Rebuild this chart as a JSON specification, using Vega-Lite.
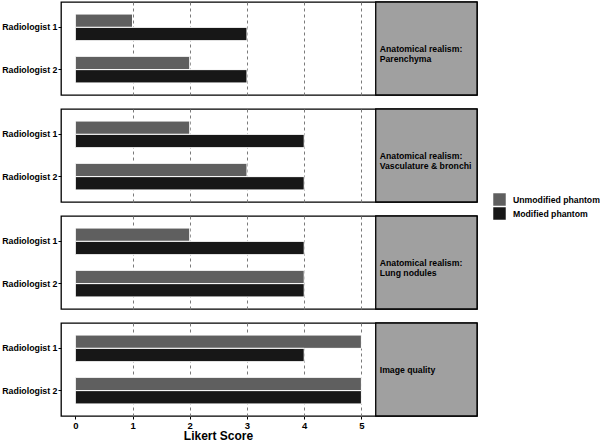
{
  "$schema": "https://vega.github.io/schema/vega-lite/v6.json",
  "padding": {"left": 1, "top": 0, "right": 0, "bottom": 0},
  "bounds": "flush",
  "background": "white",
  "data": {"values": [
    {"panel": "Anatomical realism:\nParenchyma", "rad": "Radiologist 1", "phantom": "Unmodified phantom", "score": 1},
    {"panel": "Anatomical realism:\nParenchyma", "rad": "Radiologist 1", "phantom": "Modified phantom", "score": 3},
    {"panel": "Anatomical realism:\nParenchyma", "rad": "Radiologist 2", "phantom": "Unmodified phantom", "score": 2},
    {"panel": "Anatomical realism:\nParenchyma", "rad": "Radiologist 2", "phantom": "Modified phantom", "score": 3},
    {"panel": "Anatomical realism:\nVasculature & bronchi", "rad": "Radiologist 1", "phantom": "Unmodified phantom", "score": 2},
    {"panel": "Anatomical realism:\nVasculature & bronchi", "rad": "Radiologist 1", "phantom": "Modified phantom", "score": 4},
    {"panel": "Anatomical realism:\nVasculature & bronchi", "rad": "Radiologist 2", "phantom": "Unmodified phantom", "score": 3},
    {"panel": "Anatomical realism:\nVasculature & bronchi", "rad": "Radiologist 2", "phantom": "Modified phantom", "score": 4},
    {"panel": "Anatomical realism:\nLung nodules", "rad": "Radiologist 1", "phantom": "Unmodified phantom", "score": 2},
    {"panel": "Anatomical realism:\nLung nodules", "rad": "Radiologist 1", "phantom": "Modified phantom", "score": 4},
    {"panel": "Anatomical realism:\nLung nodules", "rad": "Radiologist 2", "phantom": "Unmodified phantom", "score": 4},
    {"panel": "Anatomical realism:\nLung nodules", "rad": "Radiologist 2", "phantom": "Modified phantom", "score": 4},
    {"panel": "Image quality", "rad": "Radiologist 1", "phantom": "Unmodified phantom", "score": 5},
    {"panel": "Image quality", "rad": "Radiologist 1", "phantom": "Modified phantom", "score": 4},
    {"panel": "Image quality", "rad": "Radiologist 2", "phantom": "Unmodified phantom", "score": 5},
    {"panel": "Image quality", "rad": "Radiologist 2", "phantom": "Modified phantom", "score": 5}
  ]},
  "facet": {
    "row": {
      "field": "panel",
      "type": "nominal",
      "header": null,
      "sort": ["Anatomical realism:\nParenchyma", "Anatomical realism:\nVasculature & bronchi", "Anatomical realism:\nLung nodules", "Image quality"]
    }
  },
  "spacing": {"row": 14},
  "spec": {
    "width": 416,
    "height": 93,
    "layer": [
      {
        "mark": {"type": "bar", "stroke": "white", "strokeWidth": 1},
        "encoding": {
          "x": {
            "field": "score",
            "type": "quantitative",
            "stack": null,
            "scale": {"domain": [-0.25, 7.02], "nice": false, "zero": false},
            "axis": {
              "values": [0, 1, 2, 3, 4, 5],
              "format": "d",
              "title": "Likert Score",
              "titleX": 157,
              "grid": true,
              "gridDash": [3, 3],
              "gridColor": {"condition": {"test": "datum.value === 0", "value": "transparent"}, "value": "#7a7a7a"},
              "gridWidth": 1
            }
          },
          "y": {
            "field": "rad",
            "type": "nominal",
            "title": null,
            "scale": {"paddingInner": 0.37, "paddingOuter": 0.285}
          },
          "yOffset": {
            "field": "phantom",
            "type": "nominal",
            "sort": ["Unmodified phantom", "Modified phantom"],
            "scale": {"paddingInner": 0, "paddingOuter": 0}
          },
          "color": {
            "field": "phantom",
            "type": "nominal",
            "sort": ["Unmodified phantom", "Modified phantom"],
            "scale": {"domain": ["Unmodified phantom", "Modified phantom"], "range": ["#5f5f5f", "#171717"]},
            "legend": {
              "title": null,
              "orient": "none",
              "legendX": 432,
              "legendY": 191,
              "symbolType": "square",
              "symbolSize": 156,
              "symbolStrokeWidth": 0,
              "labelFontSize": 8.7,
              "labelFontWeight": "bold",
              "labelColor": "black",
              "rowPadding": 1,
              "labelOffset": 7
            }
          }
        }
      },
      {
        "transform": [{"filter": "datum.rad === 'Radiologist 1' && datum.phantom === 'Unmodified phantom'"}],
        "mark": {"type": "rect", "fill": "#a0a0a0", "stroke": "black", "strokeWidth": 1.3},
        "encoding": {
          "x": {"datum": 5.25, "type": "quantitative"},
          "x2": {"datum": 7.02}
        }
      },
      {
        "transform": [{"filter": "datum.rad === 'Radiologist 1' && datum.phantom === 'Unmodified phantom'"}],
        "mark": {"type": "text", "align": "left", "baseline": "middle", "fontSize": 8.7, "fontWeight": "bold", "color": "black", "lineBreak": "\n", "font": "Liberation Sans"},
        "encoding": {
          "x": {"datum": 5.32, "type": "quantitative"},
          "text": {"field": "panel"}
        }
      }
    ]
  },
  "config": {
    "font": "Liberation Sans",
    "view": {"stroke": "black", "strokeWidth": 1.3},
    "axis": {
      "labelFont": "Liberation Sans",
      "labelFontWeight": "bold",
      "labelColor": "black",
      "labelFontSize": 9.5,
      "tickColor": "black",
      "tickSize": 3,
      "domain": false,
      "titleFont": "Liberation Sans",
      "titleFontWeight": "bold",
      "titleFontSize": 12,
      "titleColor": "black",
      "titlePadding": 1
    },
    "axisX": {"labelPadding": 1},
    "axisY": {"grid": false, "labelPadding": 1, "labelFontSize": 8.8}
  }
}
